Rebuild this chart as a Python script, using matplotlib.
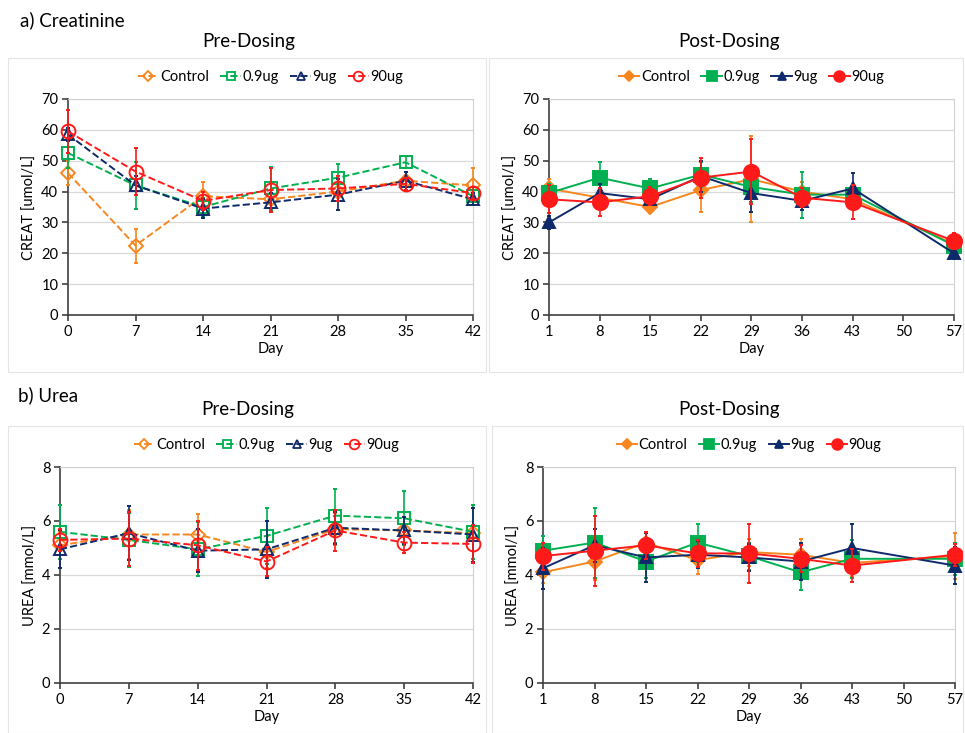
import matplotlib.pyplot as plt
from matplotlib.patches import Rectangle
from matplotlib.lines import Line2D

plt.rcParams['font.family'] = ['Lato', 'DejaVu Sans']

W, H = 965, 733

groups = ['Control', '0.9ug', '9ug', '90ug']
colors = ['#F7861E', '#00B050', '#0F2A6B', '#FF1A1A']
markers = ['D', 's', '^', 'o']
pre_sizes = [7, 9, 9, 10]
post_sizes = [7, 10, 9, 11]

pre_days = [0, 7, 14, 21, 28, 35, 42]
post_days = [1, 8, 15, 22, 29, 36, 43, 57]

# Creatinine, pre-dosing (umol/L)
creat_pre_ctrl = [46, 22.5, 38.5, 37.5, 40, 43.5, 42]
creat_pre_g09 = [52.5, 42, 35, 41, 44.5, 49.5, 38.5]
creat_pre_g9 = [58.5, 42, 34.5, 36.5, 39, 43.5, 37.5]
creat_pre_g90 = [59.5, 46.5, 37, 40.5, 41, 42.5, 39.5]
creat_pre_err_ctrl = [4, 5.5, 4.5, 3, 3, 2, 5.5]
creat_pre_err_g09 = [5, 7.5, 3, 7, 4.5, 2, 3]
creat_pre_err_g9 = [2, 3, 3, 3, 5, 3, 2]
creat_pre_err_g90 = [7, 7.5, 3, 7, 4, 2, 2]

# Creatinine, post-dosing
creat_post_ctrl = [41, 38, 35, 40.5, 44, 40, 37.5, 23]
creat_post_g09 = [39.5, 44.5, 41, 45.5, 41.5, 39, 39, 22.5]
creat_post_g9 = [30, 39.5, 37.5, 45, 39.5, 37, 41, 20]
creat_post_g90 = [37.5, 36.5, 38.5, 44.5, 46.5, 38, 36.5, 24]
creat_post_err_ctrl = [3, 3, 2, 7, 14, 3, 3, 2]
creat_post_err_g09 = [3, 5, 3, 4, 5, 7.5, 3, 2]
creat_post_err_g9 = [2, 3, 2, 5, 6, 3, 5, 2]
creat_post_err_g90 = [4.5, 4.5, 3, 6.5, 10.5, 3, 5.5, 2.5]

# Urea, pre-dosing (mmol/L)
urea_pre_ctrl = [5.1, 5.5, 5.5, 4.85, 5.7, 5.65, 5.55]
urea_pre_g09 = [5.6, 5.3, 4.95, 5.45, 6.2, 6.1, 5.6]
urea_pre_g9 = [4.95, 5.55, 4.9, 4.95, 5.75, 5.65, 5.5]
urea_pre_g90 = [5.3, 5.35, 5.1, 4.5, 5.65, 5.2, 5.15]
urea_pre_err_ctrl = [0.5, 0.9, 0.75, 0.6, 0.6, 0.5, 1.05]
urea_pre_err_g09 = [1.0, 1.0, 1.0, 1.05, 1.0, 1.0, 1.0]
urea_pre_err_g9 = [0.7, 1.0, 0.8, 1.05, 0.6, 0.5, 1.0]
urea_pre_err_g90 = [0.4, 1.0, 0.9, 0.55, 0.75, 0.4, 0.7]

# Urea, post-dosing
urea_post_ctrl = [4.1, 4.5, 5.2, 4.55, 4.85, 4.75, 4.45, 4.7]
urea_post_g09 = [4.9, 5.2, 4.5, 5.2, 4.7, 4.1, 4.6, 4.6]
urea_post_g9 = [4.25, 5.1, 4.65, 4.75, 4.65, 4.5, 5.0, 4.35]
urea_post_g90 = [4.7, 4.9, 5.1, 4.8, 4.8, 4.6, 4.35, 4.75]
urea_post_err_ctrl = [0.4, 0.7, 0.4, 0.5, 0.5, 0.6, 0.5, 0.85]
urea_post_err_g09 = [0.55, 1.3, 0.6, 0.7, 0.5, 0.65, 0.7, 0.6]
urea_post_err_g9 = [0.75, 0.6, 0.9, 0.5, 0.5, 0.7, 0.9, 0.7]
urea_post_err_g90 = [0.5, 1.3, 0.5, 0.5, 1.1, 0.5, 0.6, 0.4]

fig = plt.figure(figsize=(W / 100, H / 100), dpi=100)


def px_axes(x0, y0, x1, y1):
    return fig.add_axes([x0 / W, 1 - y1 / H, (x1 - x0) / W, (y1 - y0) / H])


def box(x0, y0, x1, y1):
    fig.patches.append(Rectangle((x0 / W, 1 - y1 / H), (x1 - x0) / W, (y1 - y0) / H,
                                 transform=fig.transFigure, fill=False,
                                 edgecolor='#E4E4E4', linewidth=0.8))


def panel(ax, days, series, errs, filled, ylim, yticks, xticks, ylabel):
    handles = []
    for i in range(4):
        face = colors[i] if filled else 'none'
        ms = post_sizes[i] if filled else pre_sizes[i]
        ls = '-' if filled else '--'
        ax.errorbar(days, series[i], yerr=errs[i], color=colors[i], ecolor=colors[i],
                    elinewidth=1.2, capsize=1.5, linestyle=ls, linewidth=1.4,
                    marker=markers[i], markersize=ms, markerfacecolor=face,
                    markeredgecolor=colors[i], markeredgewidth=1.4,
                    zorder=3 + i, clip_on=False)
        handles.append(Line2D([], [], color=colors[i], linestyle='-' if filled else '--',
                              linewidth=1.4, marker=markers[i],
                              markersize=(ms * 0.7), markerfacecolor=face,
                              markeredgecolor=colors[i], markeredgewidth=1.3))
    ax.set_ylim(*ylim)
    ax.set_yticks(yticks)
    ax.set_xlim(xticks[0], xticks[-1])
    ax.set_xticks(xticks)
    ax.grid(axis='y', color='#D9D9D9', linewidth=0.9)
    ax.set_axisbelow(True)
    for s in ['top', 'right']:
        ax.spines[s].set_color('#D0D0D0')
    for s in ['left', 'bottom']:
        ax.spines[s].set_color('#404040')
        ax.spines[s].set_linewidth(1.2)
    ax.tick_params(axis='both', direction='out', length=4, width=1.2, color='#404040',
                   labelsize=10.5, pad=3)
    ax.set_xlabel('Day', fontsize=10.5, labelpad=2)
    ax.set_ylabel(ylabel, fontsize=10.5, labelpad=3)
    ax.legend(handles, groups, loc='lower center', bbox_to_anchor=(0.5, 1.02), ncol=4,
              frameon=False, fontsize=10.5, handlelength=1.4, handletextpad=0.1,
              columnspacing=0.8, borderaxespad=0.3)


# background boxes
box(8, 58, 486, 372)
box(489, 58, 963, 372)
box(8, 426, 486, 733)
box(492, 426, 963, 733)

ax1 = px_axes(68, 99, 473, 315)
panel(ax1, pre_days,
      [creat_pre_ctrl, creat_pre_g09, creat_pre_g9, creat_pre_g90],
      [creat_pre_err_ctrl, creat_pre_err_g09, creat_pre_err_g9, creat_pre_err_g90],
      False, (0, 70), range(0, 71, 10), pre_days, 'CREAT [umol/L]')

ax2 = px_axes(549, 99, 954, 315)
panel(ax2, post_days,
      [creat_post_ctrl, creat_post_g09, creat_post_g9, creat_post_g90],
      [creat_post_err_ctrl, creat_post_err_g09, creat_post_err_g9, creat_post_err_g90],
      True, (0, 70), range(0, 71, 10), [1, 8, 15, 22, 29, 36, 43, 50, 57], 'CREAT [umol/L]')

ax3 = px_axes(60, 467, 473, 683)
panel(ax3, pre_days,
      [urea_pre_ctrl, urea_pre_g09, urea_pre_g9, urea_pre_g90],
      [urea_pre_err_ctrl, urea_pre_err_g09, urea_pre_err_g9, urea_pre_err_g90],
      False, (0, 8), range(0, 9, 2), pre_days, 'UREA [mmol/L]')

ax4 = px_axes(543, 467, 955, 683)
panel(ax4, post_days,
      [urea_post_ctrl, urea_post_g09, urea_post_g9, urea_post_g90],
      [urea_post_err_ctrl, urea_post_err_g09, urea_post_err_g9, urea_post_err_g90],
      True, (0, 8), range(0, 9, 2), [1, 8, 15, 22, 29, 36, 43, 50, 57], 'UREA [mmol/L]')

fig.text(20 / W, 1 - 20 / H, 'a) Creatinine', fontsize=13.5, va='center', ha='left')
fig.text(18 / W, 1 - 395 / H, 'b) Urea', fontsize=13.5, va='center', ha='left')
fig.text(249 / W, 1 - 42 / H, 'Pre-Dosing', fontsize=13.5, va='center', ha='center')
fig.text(729 / W, 1 - 42 / H, 'Post-Dosing', fontsize=13.5, va='center', ha='center')
fig.text(248 / W, 1 - 409 / H, 'Pre-Dosing', fontsize=13.5, va='center', ha='center')
fig.text(729 / W, 1 - 409 / H, 'Post-Dosing', fontsize=13.5, va='center', ha='center')

fig.savefig('out.png', dpi=100)
